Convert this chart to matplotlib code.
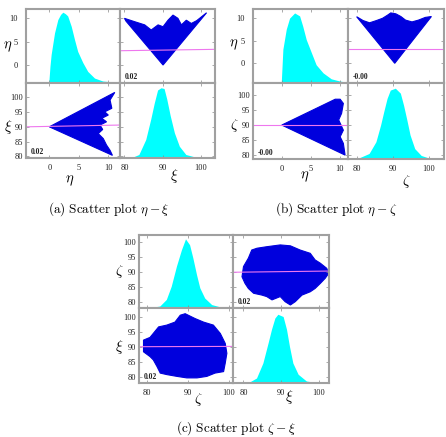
import matplotlib.pyplot as plt
from matplotlib.transforms import blended_transform_factory

plt.rcParams['font.family'] = ['Liberation Serif', 'DejaVu Serif']
plt.rcParams['mathtext.fontset'] = 'cm'

W, H = 446, 437
fig = plt.figure(figsize=(W / 100, H / 100), dpi=100)

CYAN = '#00ffff'
BLUE = '#0000dd'
FIT = '#ee77ee'
FRAME = '#a0a0a0'

eta_ticks = [0, 5, 10]
big_yticks = [80, 85, 90, 95, 100]
big_xticks = [80, 90, 100]

# ---------------- (a) eta - xi ----------------
a_eta_x = [0.0, 0.2, 0.4, 0.97, 1.53, 2.0, 2.38, 2.8, 3.2, 3.8, 4.36, 4.9, 5.76, 6.6, 7.75, 9.15, 10.8, 11.9]
a_eta_h = [0.0, 0.22, 0.38, 0.67, 0.85, 0.92, 0.95, 0.93, 0.90, 0.76, 0.58, 0.42, 0.27, 0.15, 0.06, 0.02, 0.008, 0.005]
a_xi_x = [81.0, 82.5, 83.9, 85.7, 87.0, 87.9, 88.8, 89.7, 90.5, 91.2, 92.1, 93.2, 94.5, 96.2, 98.4, 100.5]
a_xi_h = [0.0, 0.01, 0.04, 0.24, 0.51, 0.72, 0.90, 0.93, 0.92, 0.78, 0.56, 0.33, 0.15, 0.04, 0.01, 0.0]
# top-right cloud: x = xi, y = eta
a_v_xi = [80.0, 82.6, 85.3, 87.0, 88.8, 90.1, 91.4, 92.7, 94.0, 94.9, 96.2, 97.5, 98.9, 101.5, 90.1, 80.4]
a_v_eta = [10.0, 9.3, 8.6, 7.5, 8.6, 8.2, 9.6, 10.7, 10.0, 8.6, 9.6, 8.9, 9.5, 11.2, 0.0, 9.4]
# bottom-left cloud: x = eta, y = xi
a_t_eta = [0.0, 11.1, 10.3, 10.6, 9.4, 10.0, 8.9, 9.7, 8.6, 9.05, 8.3, 9.15, 9.7, 10.3, 10.7]
a_t_xi = [90.0, 101.7, 99.1, 96.3, 95.1, 94.0, 92.9, 91.7, 90.6, 89.1, 87.7, 86.0, 83.8, 82.0, 80.3]
a_fit_tr = ([78.7, 103.7], [3.06, 3.36])
a_fit_bl = ([-3.95, 11.9], [90.0, 90.6])
a_corr = '0.02'

# ---------------- (b) eta - zeta ----------------
b_eta_x = [0.0, 0.28, 0.86, 1.43, 2.3, 3.16, 3.7, 4.3, 5.2, 6.0, 7.2, 8.6, 10.05, 11.2]
b_eta_h = [0.0, 0.45, 0.72, 0.87, 0.94, 0.90, 0.76, 0.58, 0.40, 0.24, 0.13, 0.05, 0.02, 0.005]
b_zeta_x = [80.4, 83.6, 85.5, 86.8, 87.7, 88.6, 89.5, 90.9, 92.3, 93.2, 94.1, 95.0, 96.3, 98.1, 100.0]
b_zeta_h = [0.0, 0.066, 0.22, 0.44, 0.62, 0.79, 0.90, 0.925, 0.86, 0.70, 0.51, 0.31, 0.13, 0.04, 0.01]
b_v_zeta = [80.0, 81.8, 83.6, 85.5, 87.2, 88.6, 89.5, 90.9, 92.3, 93.6, 95.4, 97.2, 99.1, 100.8, 90.6]
b_v_eta = [10.36, 9.5, 9.0, 9.5, 10.0, 10.7, 11.2, 11.0, 10.4, 9.6, 9.2, 9.6, 10.2, 10.4, 0.0]
b_t_eta = [0.0, 9.2, 10.05, 10.6, 10.3, 9.8, 10.6, 10.05, 10.6, 10.9]
b_t_zeta = [90.0, 98.6, 98.6, 97.2, 93.9, 91.7, 88.3, 86.1, 83.9, 80.0]
b_fit_tr = ([77.6, 104.3], [3.1, 3.1])
b_fit_bl = ([-4.95, 11.4], [90.0, 90.0])
b_corr = '-0.00'

# ---------------- (c) zeta - xi ----------------
c_zeta_x = [81.0, 83.3, 84.9, 86.1, 87.4, 88.6, 89.6, 90.6, 91.4, 92.3, 93.1, 94.3, 96.0, 98.0, 99.5]
c_zeta_h = [0.0, 0.02, 0.11, 0.29, 0.57, 0.79, 0.94, 0.86, 0.68, 0.45, 0.27, 0.13, 0.04, 0.01, 0.0]
c_xi_x = [81.5, 83.6, 85.3, 86.7, 87.6, 88.5, 89.3, 90.7, 91.6, 92.4, 93.3, 94.7, 96.9, 99.6]
c_xi_h = [0.0, 0.06, 0.26, 0.53, 0.71, 0.86, 0.91, 0.88, 0.71, 0.48, 0.26, 0.11, 0.02, 0.0]
# top-right cloud: x = xi, y = zeta
c_tr_xi = [79.6, 80.0, 81.3, 82.2, 83.6, 86.2, 89.8, 92.5, 95.1, 97.8, 99.1, 100.5, 102.2, 102.7, 101.8,
           100.5, 99.1, 97.8, 95.6, 93.8, 92.5, 91.1, 89.8, 87.6, 86.2, 84.9, 82.7, 81.3, 80.4]
c_tr_zeta = [88.3, 91.7, 94.5, 97.2, 97.8, 98.3, 98.9, 98.6, 97.2, 96.1, 93.9, 92.8, 91.1, 89.4, 87.8,
             86.1, 84.4, 83.3, 82.2, 80.0, 78.9, 80.0, 81.7, 80.6, 81.7, 82.2, 82.8, 84.4, 86.1]
# bottom-left cloud: x = zeta, y = xi
c_bl_zeta = [79.2, 80.8, 82.9, 84.9, 86.9, 88.2, 89.4, 91.8, 93.9, 96.3, 98.0, 99.2, 99.6, 99.2, 98.8,
             96.7, 94.7, 92.3, 89.8, 87.4, 84.9, 83.3, 82.5, 81.6, 80.8, 79.2]
c_bl_xi = [92.4, 93.3, 96.8, 97.4, 98.4, 100.7, 101.2, 99.6, 98.4, 97.4, 94.6, 91.3, 88.0, 84.7, 81.9,
           81.4, 80.3, 79.8, 79.8, 80.3, 80.9, 81.4, 83.6, 85.8, 86.9, 88.5]
c_fit_tr = ([77.2, 102.8], [89.8, 90.2])
c_fit_bl = ([78.1, 101.1], [90.2, 90.3])
c_corr = '0.02'


def make_ax(l, t, r, b, xlim, ylim, xt, yt):
    ax = fig.add_axes([l / W, 1 - b / H, (r - l) / W, (b - t) / H])
    for sp in ax.spines.values():
        sp.set_color(FRAME)
        sp.set_linewidth(1.5)
    ax.tick_params(direction='in', length=2.5, width=0.5, color='#888888', labelcolor='#222222',
                   labelsize=6, top=True, right=True)
    ax.tick_params(axis='x', pad=4)
    ax.tick_params(axis='y', pad=2)
    ax.set_xlim(xlim)
    ax.set_ylim(ylim)
    ax.set_xticks(xt)
    ax.set_yticks(yt)
    return ax


def block(xs, ys, lim0, lim1, ylim0, ylim1, xt1, yt1, h0, h1, cl_tr, cl_bl, fit_tr, fit_bl, corr, tl_pad):
    x0, x1, x2 = xs
    y0, y1, y2 = ys
    tl = make_ax(x0, y0, x1, y1, lim0, ylim0, xt1[0], yt1[0])
    tr = make_ax(x1, y0, x2, y1, lim1, ylim0, xt1[1], yt1[0])
    bl = make_ax(x0, y1, x1, y2, lim0, ylim1, xt1[0], yt1[1])
    br = make_ax(x1, y1, x2, y2, lim1, ylim1, xt1[1], yt1[1])
    tl.tick_params(labelbottom=False)
    tl.tick_params(axis='y', pad=tl_pad)
    tr.tick_params(labelbottom=False, labelleft=False)
    br.tick_params(labelleft=False)
    for ax, (hx, hh) in [(tl, h0), (br, h1)]:
        trans = blended_transform_factory(ax.transData, ax.transAxes)
        ax.fill(hx, hh, color=CYAN, lw=0, transform=trans)
    for ax, (cx, cy), (fx, fy) in [(tr, cl_tr, fit_tr), (bl, cl_bl, fit_bl)]:
        ax.fill(cx, cy, facecolor=BLUE, edgecolor=BLUE, lw=0.8)
        ax.plot(fx, fy, color=FIT, lw=0.8)
        ax.text(0.05, 0.05, corr, transform=ax.transAxes, fontsize=5.5, fontweight='bold', color='#222222')
    return tl, tr, bl, br


block((26, 119.5, 215), (9, 83, 158),
      (-3.95, 11.9), (78.7, 103.7), (-3.85, 12.0), (79.4, 104.9),
      (eta_ticks, big_xticks), (eta_ticks, big_yticks),
      (a_eta_x, a_eta_h), (a_xi_x, a_xi_h),
      (a_v_xi, a_v_eta), (a_t_eta, a_t_xi), a_fit_tr, a_fit_bl, a_corr, 6)

block((253, 348, 444), (9, 83, 159),
      (-4.95, 11.4), (77.6, 104.3), (-4.38, 12.07), (78.7, 104.0),
      (eta_ticks, big_xticks), (eta_ticks, big_yticks),
      (b_eta_x, b_eta_h), (b_zeta_x, b_zeta_h),
      (b_v_zeta, b_v_eta), (b_t_eta, b_t_zeta), b_fit_tr, b_fit_bl, b_corr, 6)

block((139, 233, 329), (235, 308, 383),
      (78.1, 101.1), (77.2, 102.8), (77.9, 102.2), (78.1, 103.1),
      (big_xticks, big_xticks), (big_yticks, big_yticks),
      (c_zeta_x, c_zeta_h), (c_xi_x, c_xi_h),
      (c_tr_xi, c_tr_zeta), (c_bl_zeta, c_bl_xi), c_fit_tr, c_fit_bl, c_corr, 2)

# axis symbols
sym = [(r'$\eta$', 8, 46.7), (r'$\xi$', 8, 126.7), (r'$\eta$', 70, 181), (r'$\xi$', 174, 176),
       (r'$\eta$', 234, 45), (r'$\zeta$', 234, 125), (r'$\eta$', 305, 177), (r'$\zeta$', 406, 182),
       (r'$\zeta$', 119, 271.7), (r'$\xi$', 119, 346.7), (r'$\zeta$', 198, 400), (r'$\xi$', 289, 397)]
for s, x, y in sym:
    fig.text(x / W, 1 - y / H, s, ha='center', va='center', fontsize=10.5)

captions = [(r'$\mathrm{(a)\ Scatter\ plot\ }\eta-\xi$', 108.5, 209),
            (r'$\mathrm{(b)\ Scatter\ plot\ }\eta-\zeta$', 336, 209),
            (r'$\mathrm{(c)\ Scatter\ plot\ }\zeta-\xi$', 235.5, 428)]
for s, x, y in captions:
    fig.text(x / W, 1 - y / H, s, ha='center', va='center', fontsize=9.5)

fig.savefig('out.png', dpi=100)
